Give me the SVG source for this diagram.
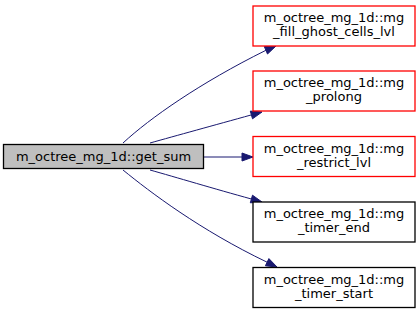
<svg xmlns="http://www.w3.org/2000/svg" width="420" height="313" viewBox="0 0 420 313">
<style>
.bg{fill:#ffffff}
.node rect{stroke-width:1.3}
.main rect{fill:#bfbfbf;stroke:#000000}
.red rect{fill:#ffffff;stroke:#ff0000}
.blk rect{fill:#ffffff;stroke:#000000}
text{font-family:"DejaVu Sans",sans-serif;font-size:13px;fill:#000000;text-anchor:middle}
.edge path{fill:none;stroke:#191970;stroke-width:1}
.edge polygon{fill:#191970;stroke:#191970;stroke-width:1}
</style>
<rect class="bg" x="0" y="0" width="420" height="313"/>
<g id="connectors" class="edge">
  <g id="e1"><path d="M123,143 C150,118 200,83 265.9,50.3"/><polygon points="276,46 267.5,54 264.3,46.6"/></g>
  <g id="e2"><path d="M150,143 C175,136 215,125 251.4,114.9"/><polygon points="262,112 252.5,118.8 250.3,111.1"/></g>
  <g id="e3"><path d="M204,157 L242,157"/><polygon points="253,157 242,161 242,153"/></g>
  <g id="e4"><path d="M150,170 C175,177 215,189 251.4,199"/><polygon points="262,202 250.3,202.8 252.5,195.2"/></g>
  <g id="e5"><path d="M123,170 C150,192 200,230 267.1,262.2"/><polygon points="277,267 265.4,265.8 268.9,258.6"/></g>
</g>
<g id="get_sum" class="node main"><rect x="3.5" y="144.5" width="200" height="24"/><text x="103.5" y="161">m_octree_mg_1d::get_sum</text></g>
<g id="fill_ghost" class="node red"><rect x="253" y="6" width="162" height="40"/><text x="334" y="22">m_octree_mg_1d::mg</text><text x="334" y="36">_fill_ghost_cells_lvl</text></g>
<g id="prolong" class="node red"><rect x="253" y="71" width="162" height="40"/><text x="334" y="87">m_octree_mg_1d::mg</text><text x="334" y="101">_prolong</text></g>
<g id="restrict" class="node red"><rect x="253" y="136.5" width="162" height="40"/><text x="334" y="152.5">m_octree_mg_1d::mg</text><text x="334" y="166.5">_restrict_lvl</text></g>
<g id="timer_end" class="node blk"><rect x="253" y="202" width="162" height="40"/><text x="334" y="218">m_octree_mg_1d::mg</text><text x="334" y="232">_timer_end</text></g>
<g id="timer_start" class="node blk"><rect x="253" y="267.5" width="162" height="40"/><text x="334" y="283.5">m_octree_mg_1d::mg</text><text x="334" y="297.5">_timer_start</text></g>
</svg>
